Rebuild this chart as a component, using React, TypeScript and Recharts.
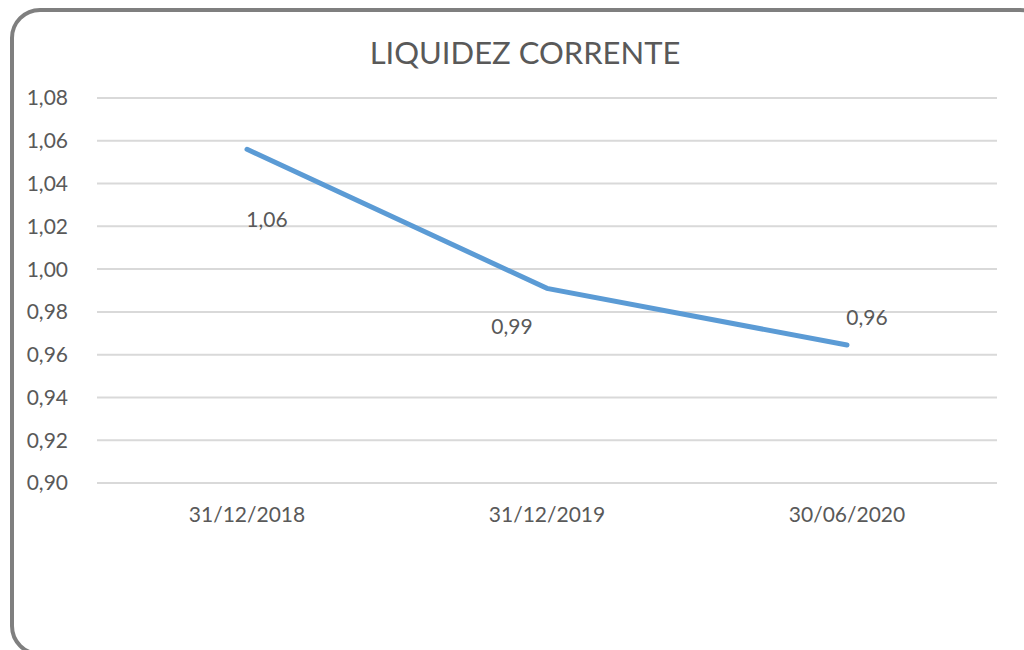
import { CartesianGrid, LabelList, Line, LineChart, XAxis, YAxis } from "recharts";

const periods = ["31/12/2018", "31/12/2019", "30/06/2020"];
const liquidez = [1.056, 0.991, 0.9645];
const yTicks = [0.9, 0.92, 0.94, 0.96, 0.98, 1.0, 1.02, 1.04, 1.06, 1.08];

// label nudges relative to each point (Excel had them dragged around)
const labelNudge = [
  { dx: 20, dy: 69 },
  { dx: -35, dy: 37 },
  { dx: 20, dy: -29 },
];

const data = periods.map((period, i) => ({ period, value: liquidez[i] }));

const fmt = (v: number) => v.toFixed(2).replace(".", ",");
const font = "Lato, 'Open Sans', sans-serif";
const textColor = "#595959";

function PointLabel(props: any) {
  const { x, y, value, index } = props;
  const n = labelNudge[index] ?? { dx: 0, dy: -12 };
  return (
    <text x={x + n.dx} y={y + n.dy} textAnchor="middle" dominantBaseline="central" fill={textColor} fontSize={21} fontFamily={font}>
      {fmt(value)}
    </text>
  );
}

export default function App() {
  return (
    <div style={{ position: "absolute", left: 0, top: 0, width: 1024, height: 650, overflow: "hidden", background: "#fff" }}>
      <div
        style={{
          position: "absolute",
          left: 10,
          top: 8,
          width: 1040,
          height: 648,
          border: "4px solid #7f7f7f",
          borderRadius: 30,
          boxSizing: "border-box",
        }}
      />
      <div
        style={{
          position: "absolute",
          left: 0,
          top: 33,
          width: 1050,
          textAlign: "center",
          fontFamily: font,
          fontSize: 31,
          color: textColor,
        }}
      >
        LIQUIDEZ CORRENTE
      </div>
      <div style={{ position: "absolute", left: 0, top: 0 }}>
        <LineChart width={1024} height={650} data={data} margin={{ top: 98, right: 27, bottom: 137, left: 0 }}>
          <CartesianGrid stroke="#d9d9d9" strokeWidth={2} vertical={false} />
          <XAxis
            dataKey="period"
            height={30}
            axisLine={false}
            tickLine={false}
            tickSize={0}
            tickMargin={24}
            padding={{ left: 150, right: 150 }}
            tick={{ fill: textColor, fontSize: 21, fontFamily: font }}
          />
          <YAxis
            width={97}
            domain={[0.9, 1.08]}
            ticks={yTicks}
            interval={0}
            axisLine={false}
            tickLine={false}
            tickSize={0}
            tickMargin={29}
            tickFormatter={fmt}
            tick={{ fill: textColor, fontSize: 21, fontFamily: font }}
          />
          <Line
            type="linear"
            dataKey="value"
            stroke="#5b9bd5"
            strokeWidth={5}
            strokeLinecap="round"
            dot={false}
            isAnimationActive={false}
          >
            <LabelList dataKey="value" content={<PointLabel />} />
          </Line>
        </LineChart>
      </div>
    </div>
  );
}
